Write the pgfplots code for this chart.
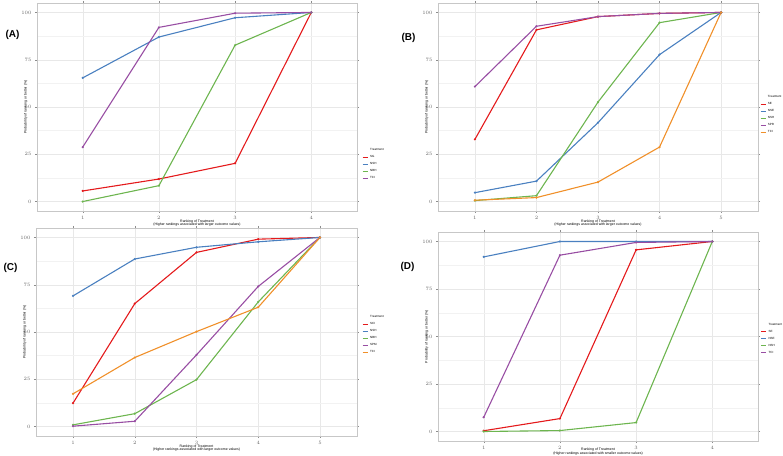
\documentclass[border=0pt]{standalone}
\usepackage{pgfplots}
\pgfplotsset{compat=1.18}
\usepackage{fontspec}
\setmainfont{Liberation Sans}
\definecolor{sred}{HTML}{E41A1C}
\definecolor{sblue}{HTML}{4A80C0}
\definecolor{sgreen}{HTML}{6DB54F}
\definecolor{spurple}{HTML}{984EA3}
\definecolor{sorange}{HTML}{F0902A}
\pgfplotsset{
  panel/.style={
    scale only axis, width=320pt, height=208pt,
    ymin=-5, ymax=105, ytick={0,25,50,75,100},
    scaled y ticks=false,
    minor ytick={12.5,37.5,62.5,87.5},
    xmajorgrids, ymajorgrids, yminorgrids,
    major grid style={color=black!9, line width=0.4pt},
    minor grid style={color=black!5, line width=0.3pt},
    axis line style={color=black!22, line width=0.8pt},
    tick align=outside, major tick length=2pt, minor tick length=0pt,
    tick style={black!45, line width=0.4pt},
    ticklabel style={font=\fontsize{3}{3}\selectfont, text=black!60},
    xtick={1,2,3,4,5},
    label style={font=\fontsize{3.5}{3.8}\selectfont},
    ylabel={Probability of ranking or better (\%)},
    ylabel style={yshift=-13pt},
    xlabel style={align=center, yshift=7pt},
    every axis plot/.append style={line width=1.1pt, mark=*, mark size=0.45pt},
    legend style={draw=none, fill=none, font=\fontsize{3}{3.6}\selectfont,
      anchor=north west, row sep=-0.6pt, inner sep=0pt},
    legend cell align=left,
    legend image code/.code={\draw[#1, line width=0.8pt, mark=none] (0pt,0pt) -- (5pt,0pt);},
  }
}
\begin{document}
\begin{tikzpicture}
\useasboundingbox (0pt,0pt) rectangle (783pt,455pt);
% Panel A
\begin{axis}[panel, at={(37pt,244pt)}, anchor=south west,
  xmin=0.4, xmax=4.6, xtick={1,2,3,4},
  xlabel={Ranking of Treatment\\(Higher rankings associated with larger outcome values)},
  legend style={at={(1.016,0.31)}}]
\addlegendimage{empty legend}\addlegendentry{Treatment}
\addplot[sred] coordinates {(1,5.6) (2,11.9) (3,20.2) (4,100)};
\addlegendentry{SG}
\addplot[sblue] coordinates {(1,65.4) (2,87) (3,97.2) (4,100)};
\addlegendentry{NSH}
\addplot[sgreen] coordinates {(1,0) (2,8.4) (3,82.7) (4,100)};
\addlegendentry{NBH}
\addplot[spurple] coordinates {(1,28.8) (2,92.1) (3,99.6) (4,100)};
\addlegendentry{TCI}
\end{axis}
% Panel B
\begin{axis}[panel, at={(438pt,244pt)}, anchor=south west,
  xmin=0.4, xmax=5.6, xtick={1,2,3,4,5},
  xlabel={Ranking of Treatment\\(Higher rankings associated with larger outcome values)},
  legend style={at={(1.006,0.565)}}]
\addlegendimage{empty legend}\addlegendentry{Treatment}
\addplot[sred] coordinates {(1,32.9) (2,90.8) (3,97.8) (4,99.5) (5,100)};
\addlegendentry{SE}
\addplot[sblue] coordinates {(1,4.7) (2,10.8) (3,41.7) (4,77.7) (5,100)};
\addlegendentry{NSE}
\addplot[sgreen] coordinates {(1,0.5) (2,3.1) (3,52.6) (4,94.6) (5,100)};
\addlegendentry{NSH}
\addplot[spurple] coordinates {(1,60.8) (2,92.7) (3,97.8) (4,99.5) (5,100)};
\addlegendentry{SPR}
\addplot[sorange] coordinates {(1,0.7) (2,2.1) (3,10.3) (4,28.8) (5,100)};
\addlegendentry{TCI}
\end{axis}
% Panel C
\begin{axis}[panel, at={(36pt,19pt)}, anchor=south west, width=321pt,
  xmin=0.4, xmax=5.6, xtick={1,2,3,4,5},
  xlabel={Ranking of Treatment\\(Higher rankings associated with larger outcome values)},
  legend style={at={(1.016,0.59)}}]
\addlegendimage{empty legend}\addlegendentry{Treatment}
\addplot[sred] coordinates {(1,12.4) (2,65) (3,92.1) (4,99.1) (5,100)};
\addlegendentry{SCI}
\addplot[sblue] coordinates {(1,69.1) (2,88.6) (3,94.8) (4,97.7) (5,100)};
\addlegendentry{NSH}
\addplot[sgreen] coordinates {(1,0.9) (2,6.8) (3,24.8) (4,65.9) (5,100)};
\addlegendentry{NBH}
\addplot[spurple] coordinates {(1,0.2) (2,2.8) (3,37.9) (4,74.1) (5,100)};
\addlegendentry{SPM}
\addplot[sorange] coordinates {(1,17.3) (2,36.5) (3,50.2) (4,63.1) (5,100)};
\addlegendentry{TCI}
\end{axis}
% Panel D
\begin{axis}[panel, at={(438pt,14pt)}, anchor=south west, width=320pt, height=209pt,
  xmin=0.4, xmax=4.6, xtick={1,2,3,4},
  xlabel={Ranking of Treatment\\(Higher rankings associated with smaller outcome values)},
  xlabel style={yshift=1.5pt},
  legend style={at={(1.008,0.575)}}]
\addlegendimage{empty legend}\addlegendentry{Treatment}
\addplot[sred] coordinates {(1,0.4) (2,6.8) (3,95.6) (4,100)};
\addlegendentry{SE}
\addplot[sblue] coordinates {(1,91.9) (2,100) (3,100) (4,100)};
\addlegendentry{NSE}
\addplot[sgreen] coordinates {(1,0) (2,0.5) (3,4.7) (4,100)};
\addlegendentry{NSH}
\addplot[spurple] coordinates {(1,7.5) (2,92.8) (3,99.5) (4,100)};
\addlegendentry{TCI}
\end{axis}
\node[font=\bfseries\fontsize{10}{11}\selectfont, anchor=west] at (2pt,420pt) {(A)};
\node[font=\bfseries\fontsize{10}{11}\selectfont, anchor=west] at (398pt,417pt) {(B)};
\node[font=\bfseries\fontsize{10}{11}\selectfont, anchor=west] at (0pt,187pt) {(C)};
\node[font=\bfseries\fontsize{10}{11}\selectfont, anchor=west] at (397pt,188pt) {(D)};
\end{tikzpicture}
\end{document}
